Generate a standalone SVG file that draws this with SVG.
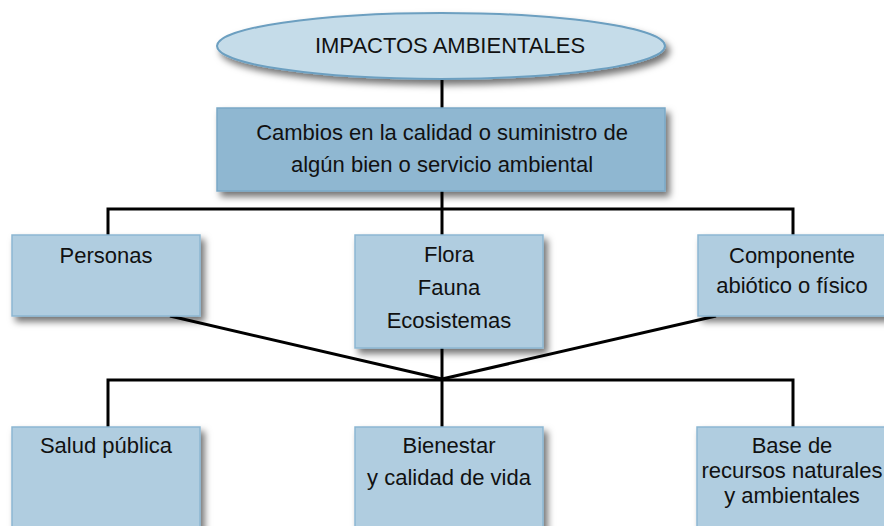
<svg xmlns="http://www.w3.org/2000/svg" width="884" height="526" viewBox="0 0 884 526">
<defs>
<filter id="sh" x="-10%" y="-10%" width="125%" height="135%">
<feDropShadow dx="4" dy="5" stdDeviation="3.5" flood-color="#000" flood-opacity="0.55"/>
</filter>
<style>
.box{fill:#b0cde0;stroke:#8cb6d2;stroke-width:1.5;filter:url(#sh)}
.main{fill:#8fb7d1;stroke:#7aa8c6;stroke-width:1.5;filter:url(#sh)}
.ell{fill:#c5dce9;stroke:#6c9fc0;stroke-width:2;filter:url(#sh)}
.t{font-family:"Liberation Sans",Arial,sans-serif;font-size:22px;fill:#111;text-anchor:middle}
.ln{stroke:#000;stroke-width:3;fill:none}
</style>
</defs>
<rect width="884" height="526" fill="#fff"/>
<g id="connectors">
<line class="ln" x1="442" y1="79" x2="442" y2="108"/>
<line class="ln" x1="442" y1="191" x2="442" y2="209"/>
<polyline class="ln" points="108,235 108,209 793,209 793,235"/>
<line class="ln" x1="442" y1="209" x2="442" y2="235"/>
<line class="ln" x1="170" y1="316" x2="442" y2="379"/>
<line class="ln" x1="716" y1="316" x2="442" y2="379"/>
<line class="ln" x1="442" y1="348" x2="442" y2="427"/>
<polyline class="ln" points="108,427 108,380 793,380 793,427"/>
</g>
<g id="n-title">
<ellipse class="ell" cx="441" cy="46" rx="224" ry="33"/>
<text class="t" x="450" y="53" font-size="21">IMPACTOS AMBIENTALES</text>
</g>
<g id="n-cambios">
<rect class="main" x="217" y="108" width="448" height="83"/>
<text class="t" x="442" y="140">Cambios en la calidad o suministro de</text>
<text class="t" x="442" y="172">algún bien o servicio ambiental</text>
</g>
<g id="n-personas">
<rect class="box" x="12" y="235" width="188" height="81"/>
<text class="t" x="106" y="263">Personas</text>
</g>
<g id="n-flora">
<rect class="box" x="355" y="235" width="188" height="113"/>
<text class="t" x="449" y="262">Flora</text>
<text class="t" x="449" y="295">Fauna</text>
<text class="t" x="449" y="328">Ecosistemas</text>
</g>
<g id="n-componente">
<rect class="box" x="698" y="235" width="190" height="81"/>
<text class="t" x="792" y="263">Componente</text>
<text class="t" x="792" y="293">abiótico o físico</text>
</g>
<g id="n-salud">
<rect class="box" x="12" y="427" width="188" height="110"/>
<text class="t" x="106" y="453">Salud pública</text>
</g>
<g id="n-bienestar">
<rect class="box" x="355" y="427" width="188" height="110"/>
<text class="t" x="449" y="453">Bienestar</text>
<text class="t" x="449" y="485">y calidad de vida</text>
</g>
<g id="n-base">
<rect class="box" x="697" y="427" width="191" height="110"/>
<text class="t" x="792" y="453">Base de</text>
<text class="t" x="792" y="478">recursos naturales</text>
<text class="t" x="792" y="503">y ambientales</text>
</g>
</svg>
